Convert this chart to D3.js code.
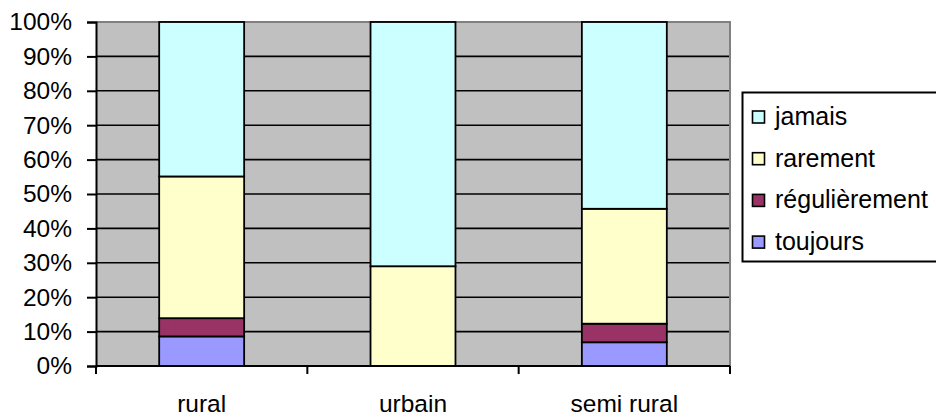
<!DOCTYPE html>
<html><head><meta charset="utf-8">
<script src="https://cdn.jsdelivr.net/npm/d3@7"></script>
<style>
html,body{margin:0;padding:0;background:#fff;}
svg{display:block;}
text{font-family:"Liberation Sans",Arial,sans-serif;fill:#000;}
</style></head>
<body>
<svg id="chart" width="936" height="417"></svg>
<script>
const categories = ["rural", "urbain", "semi rural"];
const seriesNames = ["toujours", "régulièrement", "rarement", "jamais"];
const toujours = [8.6, 0, 6.9];
const regulierement = [5.3, 0, 5.4];
const rarement = [41.2, 29.0, 33.4];
const jamais = [44.9, 71.0, 54.3];
const seriesColors = ["#9999FF", "#993366", "#FFFFCC", "#CCFFFF"];
const yTicks = [0, 0.1, 0.2, 0.3, 0.4, 0.5, 0.6, 0.7, 0.8, 0.9, 1.0];

const seriesValues = [toujours, regulierement, rarement, jamais];
const rows = categories.map((c, i) => {
  const r = {cat: c};
  seriesNames.forEach((s, j) => r[s] = seriesValues[j][i] / 100);
  return r;
});
const stack = d3.stack().keys(seriesNames)(rows);

const svg = d3.select("#chart");
const L = 96, R = 730, T = 22, B = 366;
const FS = 24.5;

const x = d3.scaleBand().domain(categories).range([L, R]).paddingInner(0.598).paddingOuter(0.299);
const xb = d3.scaleBand().domain(categories).range([L, R]).padding(0);
const y = d3.scaleLinear().domain([0, 1]).range([B, T]);

// plot background
svg.append("rect").attr("x", L).attr("y", T).attr("width", R - L).attr("height", B - T).attr("fill", "#C0C0C0");

// gridlines
svg.append("g").selectAll("line").data(yTicks.filter(d => d > 0 && d < 1)).join("line")
  .attr("x1", L).attr("x2", R).attr("y1", d => y(d)).attr("y2", d => y(d))
  .attr("stroke", "#000").attr("stroke-width", 1.6);

// plot border top/right gray
svg.append("path").attr("d", `M${L},${T}H${R}V${B}`).attr("fill", "none").attr("stroke", "#808080").attr("stroke-width", 2);

// bars
svg.append("g").selectAll("g").data(stack).join("g")
  .attr("fill", (d, i) => seriesColors[i])
  .selectAll("rect").data(d => d.filter(p => p[1] - p[0] > 0)).join("rect")
  .attr("x", d => x(d.data.cat)).attr("width", x.bandwidth())
  .attr("y", d => y(d[1])).attr("height", d => y(d[0]) - y(d[1]))
  .attr("stroke", "#000").attr("stroke-width", 1.8);

// y axis
const yAxis = svg.append("g").attr("transform", `translate(${L},0)`)
  .call(d3.axisLeft(y).tickValues(yTicks).tickFormat(d3.format(".0%")).tickSize(9).tickPadding(15));
yAxis.attr("font-family", null).attr("font-size", null);
yAxis.select(".domain").attr("stroke", "#000").attr("stroke-width", 2);
yAxis.selectAll(".tick line").attr("stroke", "#000").attr("stroke-width", 2);
yAxis.selectAll("text").style("font-size", FS + "px");

// x axis
const xg = svg.append("g");
xg.append("line").attr("x1", L).attr("x2", R).attr("y1", B).attr("y2", B).attr("stroke", "#000").attr("stroke-width", 2);
const boundaries = categories.map(c => xb(c)).concat([xb.range()[1]]);
xg.selectAll("line.tk").data(boundaries).join("line").attr("class", "tk")
  .attr("x1", d => d).attr("x2", d => d).attr("y1", B).attr("y2", B + 8)
  .attr("stroke", "#000").attr("stroke-width", 2);
xg.selectAll("text").data(categories).join("text")
  .attr("x", d => x(d) + x.bandwidth() / 2).attr("y", 412)
  .attr("text-anchor", "middle").style("font-size", FS + "px").text(d => d);

// legend
const lg = svg.append("g");
lg.append("rect").attr("x", 742.5).attr("y", 92.5).attr("width", 200).attr("height", 169)
  .attr("fill", "#fff").attr("stroke", "#000").attr("stroke-width", 2);
const legendOrder = seriesNames.slice().reverse();
const li = lg.selectAll("g.it").data(legendOrder).join("g").attr("class", "it")
  .attr("transform", (d, i) => `translate(0,${125 + i * 41.7})`);
li.append("rect").attr("x", 752.5).attr("y", -14).attr("width", 12).attr("height", 12)
  .attr("fill", d => seriesColors[seriesNames.indexOf(d)]).attr("stroke", "#000").attr("stroke-width", 1.6);
li.append("text").attr("x", 775).attr("y", 0).style("font-size", "25px").text(d => d);
</script>
</body></html>
